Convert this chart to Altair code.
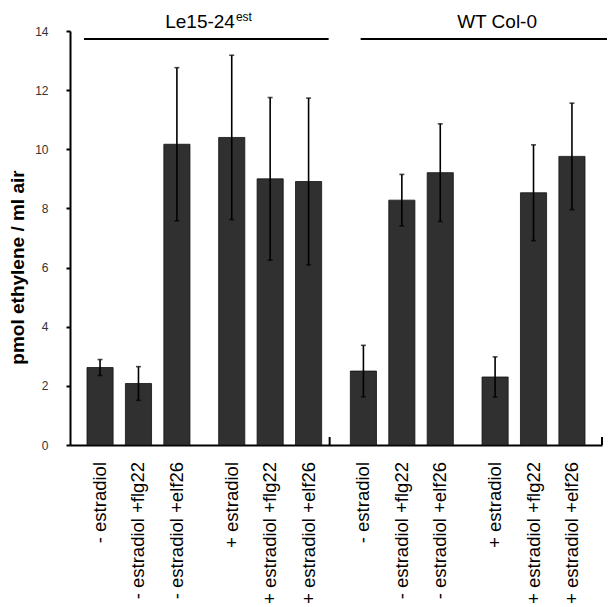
import altair as alt
import pandas as pd

# ---- data ----
genotypes = ["Le15-24est"] * 6 + ["WT Col-0"] * 6
estradiol_sign = ["-", "-", "-", "+", "+", "+"] * 2
treatments = ["none", "flg22", "elf26"] * 4
labels = ["- estradiol", "- estradiol +flg22", "- estradiol +elf26",
          "+ estradiol", "+ estradiol +flg22", "+ estradiol +elf26"] * 2
ethylene = [2.62, 2.08, 10.17, 10.40, 9.00, 8.91, 2.50, 8.28, 9.21, 2.30, 8.53, 9.76]
errors = [0.27, 0.57, 2.59, 2.78, 2.75, 2.82, 0.87, 0.87, 1.65, 0.68, 1.62, 1.80]
y_ticks = [0, 2, 4, 6, 8, 10, 12, 14]
header_main = ["Le15-24", "WT Col-0"]
header_sup = ["est", ""]

group_order = ["Le15-24est -", "Le15-24est +", "WT Col-0 -", "WT Col-0 +"]
treat_order = ["none", "flg22", "elf26"]

df = pd.DataFrame({
    "genotype": genotypes,
    "sign": estradiol_sign,
    "treatment": treatments,
    "label": labels,
    "value": ethylene,
    "err": errors,
})
df["group"] = df["genotype"] + " " + df["sign"]
df["lo"] = df["value"] - df["err"]
df["hi"] = df["value"] + df["err"]

FONT = "Liberation Sans"
W, H = 532, 414

x_scale = alt.Scale(domain=group_order, paddingInner=0.218, paddingOuter=0.129)
x_axis = alt.Axis(labels=False, ticks=False, title=None, domainColor="black",
                  domainWidth=2, grid=False)
xo = alt.XOffset("treatment:N",
                 scale=alt.Scale(domain=treat_order, paddingInner=0.32, paddingOuter=0))


def X(field="group", bp=None):
    kw = {}
    if bp is not None:
        kw["bandPosition"] = bp
    return alt.X(f"{field}:N", scale=x_scale, axis=x_axis, **kw)


y_enc = alt.Y("value:Q",
              scale=alt.Scale(domain=[0, 14], nice=False, zero=True),
              axis=alt.Axis(values=y_ticks, tickSize=4, tickWidth=2, tickColor="black",
                            domainColor="black", domainWidth=2, grid=False,
                            labelFontSize=12, labelColor="#333333", labelFont=FONT,
                            labelPadding=18,
                            title="pmol ethylene / ml air", titleFont=FONT,
                            titleFontSize=19, titleFontWeight="bold", titleColor="black",
                            titleX=-53, titleY=236, titleAlign="center",
                            titleBaseline="middle"))

base = alt.Chart(df)

bars = base.mark_bar(color="#303030", stroke="#111111", strokeWidth=0.8).encode(
    x=X(), xOffset=xo, y=y_enc)

err_rule = base.mark_rule(color="black", strokeWidth=1.6).encode(
    x=X(), xOffset=xo, y=alt.Y("lo:Q"), y2="hi:Q")

cap_hi = base.mark_tick(color="black", thickness=1.6, size=5).encode(
    x=X(), xOffset=xo, y=alt.Y("hi:Q"))
cap_lo = base.mark_tick(color="black", thickness=1.6, size=5).encode(
    x=X(), xOffset=xo, y=alt.Y("lo:Q"))

bar_labels = base.mark_text(angle=270, align="right", baseline="middle",
                            fontSize=18.5, font=FONT, color="black").encode(
    x=X(), xOffset=xo, text="label:N", y=alt.value(H + 17))

# header annotations
hdr_le = pd.DataFrame({"group": [group_order[0]], "group_end": [group_order[1]],
                       "main": [header_main[0]], "sup": [header_sup[0]]})
hdr_wt = pd.DataFrame({"group": [group_order[2]], "group_end": [group_order[3]],
                       "main": [header_main[1]], "sup": [header_sup[1]]})

line_le = alt.Chart(hdr_le).mark_rule(color="black", strokeWidth=2, xOffset=-3,
                                      x2Offset=7).encode(
    x=X("group", 0), x2=alt.X2("group_end:N", bandPosition=1), y=alt.value(8))
line_wt = alt.Chart(hdr_wt).mark_rule(color="black", strokeWidth=2, x2Offset=30).encode(
    x=X("group", 0.10), x2=alt.X2("group_end:N", bandPosition=1), y=alt.value(8))

txt_le = alt.Chart(hdr_le).mark_text(align="right", baseline="alphabetic", fontSize=19,
                                     font=FONT, color="black").encode(
    x=X("group_end", 0.158), text="main:N", y=alt.value(-3))
sup_le = alt.Chart(hdr_le).mark_text(align="left", baseline="alphabetic", fontSize=12,
                                     font=FONT, color="black", dx=1).encode(
    x=X("group_end", 0.158), text="sup:N", y=alt.value(-10))
txt_wt = alt.Chart(hdr_wt).mark_text(align="center", baseline="alphabetic", fontSize=19,
                                     font=FONT, color="black").encode(
    x=X("group_end", 0.146), text="main:N", y=alt.value(-3))

# small upward ticks on the x axis at the group boundaries
tick_mid = alt.Chart(hdr_le).mark_rule(color="black", strokeWidth=2, xOffset=8).encode(
    x=X("group_end", 1), y=alt.value(H), y2=alt.value(H - 8))
tick_end = alt.Chart(hdr_wt).mark_rule(color="black", strokeWidth=2, xOffset=17).encode(
    x=X("group_end", 1), y=alt.value(H), y2=alt.value(H - 8))

chart = alt.layer(
    bars, err_rule, cap_hi, cap_lo, bar_labels,
    line_le, line_wt, txt_le, sup_le, txt_wt, tick_mid, tick_end
).properties(
    width=W, height=H,
    autosize=alt.AutoSizeParams(type="none"),
    padding={"left": 62, "top": 23, "right": 5, "bottom": 162},
    background="white",
).configure_view(stroke=None)

chart.save("out.html", embed_options={"renderer": "svg", "actions": False})
